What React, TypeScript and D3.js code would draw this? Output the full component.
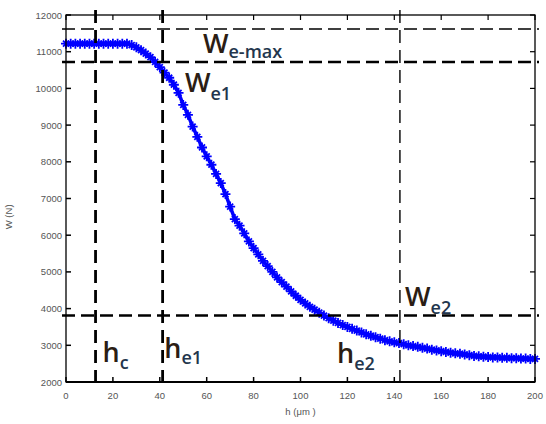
import React from "react";
import * as d3 from "d3";

// measured curve W(h), h every 2 µm
const hValues = d3.range(0, 201, 2);
const wValues = [
  11220, 11220, 11220, 11220, 11220, 11220, 11220, 11220, 11220, 11220, 11220, 11220, 11220, 11220,
  11180, 11120, 11040, 10950, 10850, 10720, 10580, 10430, 10290, 10100, 9880, 9550,
  9280, 8960, 8680, 8390, 8150, 7920, 7670, 7420, 7120, 6780, 6440, 6260, 6050, 5830,
  5650, 5480, 5300, 5160, 5000, 4850, 4720, 4600, 4470, 4350, 4240, 4140, 4050, 3970,
  3890, 3810, 3740, 3670, 3610, 3550, 3500, 3450, 3400, 3350, 3300, 3260, 3220, 3180,
  3140, 3110, 3080, 3060, 3030, 3000, 2980, 2960, 2930, 2910, 2880, 2860, 2840, 2820,
  2800, 2780, 2770, 2750, 2730, 2710, 2700, 2690, 2680, 2670, 2670, 2660, 2660, 2650,
  2650, 2640, 2640, 2630, 2630,
];

// reference lines
const hMarks = [12.6, 41.2, 142.4];
const hMarkHeavy = [true, true, false];
const wMarks = [11620, 10720, 3810];
const wMarkHeavy = [false, true, true];

const xTicks = d3.range(0, 201, 20);
const yTicks = d3.range(2000, 12001, 1000);

const width = 546;
const height = 424;
const left = 66;
const right = 535;
const top = 15;
const bottom = 382;

const textColor = "#2b1d14";
const subColor = "#23364d";

const Label = ({ x, y, main, sub, dy }) => (
  <text
    x={x}
    y={y}
    fontFamily="Open Sans, Liberation Sans, Arial, sans-serif"
    fontWeight={600}
    fill={textColor}
    fontSize={27}
  >
    {main}
    <tspan fontSize={18} dy={dy} fill={subColor}>
      {sub}
    </tspan>
  </text>
);

export default function App() {
  const x = d3.scaleLinear().domain([0, 200]).range([left, right]);
  const y = d3.scaleLinear().domain([2000, 12000]).range([bottom, top]);

  const data = hValues.map((h, i) => ({ h, w: wValues[i] }));
  const line = d3
    .line()
    .x((d) => x(d.h))
    .y((d) => y(d.w));

  const tickFont = { fontFamily: "Liberation Sans, Arial, sans-serif", fontSize: 9.5, fill: "#555" };

  return (
    <svg
      width={width}
      height={height}
      style={{ position: "absolute", left: 0, top: 0, display: "block", background: "#fff" }}
    >
      {/* curve */}
      <path d={line(data)} fill="none" stroke="#0000ff" strokeWidth={3.5} />
      {data.map((d, i) => (
        <path
          key={i}
          transform={`translate(${x(d.h)},${y(d.w)})`}
          d="M-5,0H5M0,-5V5M-3,-3L3,3M-3,3L3,-3"
          stroke="#0000ff"
          strokeWidth={1.8}
        />
      ))}

      {/* dashed reference lines */}
      {hMarks.map((h, i) => (
        <line
          key={"v" + i}
          x1={x(h)}
          x2={x(h)}
          y1={top - 5}
          y2={bottom}
          stroke="#000"
          strokeWidth={hMarkHeavy[i] ? 2.8 : 1.4}
          strokeDasharray="13,7"
        />
      ))}
      {wMarks.map((w, i) => (
        <line
          key={"h" + i}
          x1={left - 4}
          x2={right + 4}
          y1={y(w)}
          y2={y(w)}
          stroke="#000"
          strokeWidth={wMarkHeavy[i] ? 2.6 : 1.4}
          strokeDasharray="13,6"
        />
      ))}

      {/* box */}
      <rect x={left} y={top} width={right - left} height={bottom - top} fill="none" stroke="#000" strokeWidth={1.3} />
      <line x1={left} x2={right} y1={bottom} y2={bottom} stroke="#000" strokeWidth={2.2} />

      {/* ticks on all sides */}
      {xTicks.map((t) => (
        <g key={"xt" + t}>
          <line x1={x(t)} x2={x(t)} y1={bottom} y2={bottom - 5} stroke="#000" strokeWidth={1.5} />
          <line x1={x(t)} x2={x(t)} y1={top} y2={top + 5} stroke="#000" strokeWidth={1.2} />
          <text x={x(t)} y={bottom + 17} textAnchor="middle" {...tickFont}>
            {t}
          </text>
        </g>
      ))}
      {yTicks.map((t) => (
        <g key={"yt" + t}>
          <line x1={left} x2={left + 5} y1={y(t)} y2={y(t)} stroke="#000" strokeWidth={1.5} />
          <line x1={right} x2={right - 5} y1={y(t)} y2={y(t)} stroke="#000" strokeWidth={1.2} />
          <text x={left - 4} y={y(t) + 3.5} textAnchor="end" {...tickFont}>
            {t}
          </text>
        </g>
      ))}

      {/* axis titles */}
      <text x={x(100)} y={bottom + 33} textAnchor="middle" {...tickFont}>
        h (μm )
      </text>
      <text transform={`translate(12,${y(6500)}) rotate(-90)`} textAnchor="middle" {...tickFont}>
        W (N)
      </text>

      {/* annotations */}
      <Label x={x(58.4)} y={y(wMarks[1]) - 9} main="W" sub="e-max" dy={5} />
      <Label x={x(50.7)} y={y(wMarks[1]) + 30} main="W" sub="e1" dy={8} />
      <Label x={x(hMarks[2] + 2.2)} y={y(wMarks[2]) - 10} main="W" sub="e2" dy={8} />
      <Label x={x(hMarks[0] + 3)} y={bottom - 20} main="h" sub="c" dy={7} />
      <Label x={x(hMarks[1] + 0.7)} y={bottom - 24} main="h" sub="e1" dy={6} />
      <Label x={x(115.6)} y={bottom - 19} main="h" sub="e2" dy={7} />
    </svg>
  );
}
